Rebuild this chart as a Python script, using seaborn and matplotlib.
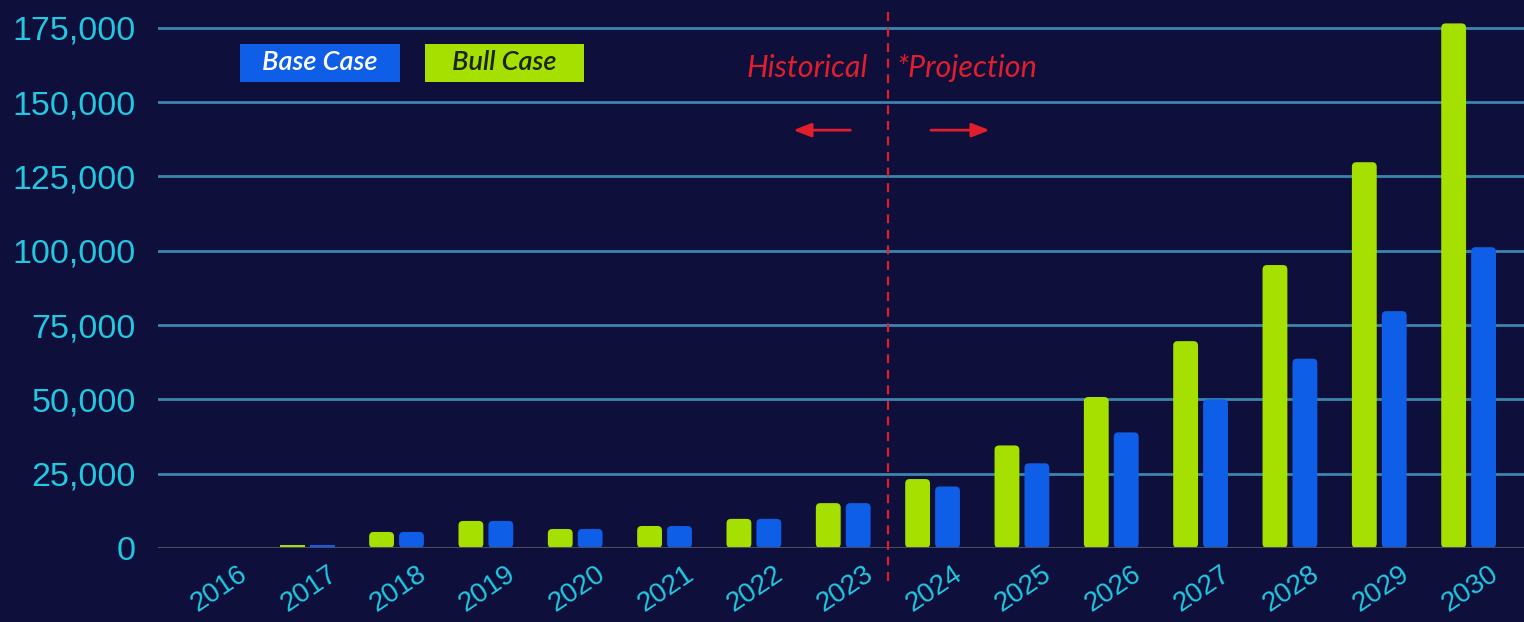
import matplotlib
matplotlib.use("Agg")
import matplotlib.pyplot as plt
from matplotlib.patches import FancyBboxPatch, Rectangle
from matplotlib.ticker import FuncFormatter
import matplotlib.transforms as mtransforms
import seaborn as sns
import pandas as pd

# Annual volume by scenario, historical through 2023 and projected afterwards
years = ["2016", "2017", "2018", "2019", "2020", "2021", "2022", "2023",
         "2024", "2025", "2026", "2027", "2028", "2029", "2030"]
bull_case = [200, 1000, 5400, 9100, 6400, 7400, 9800, 15100,
             23200, 34500, 50800, 69600, 95200, 129800, 176500]
base_case = [200, 1000, 5400, 9100, 6400, 7400, 9800, 15100,
             20700, 28500, 38900, 50000, 63700, 79700, 101200]
y_ticks = [0, 25000, 50000, 75000, 100000, 125000, 150000, 175000]

BG = "#0e0f3b"
GREEN = "#a6e000"
BLUE = "#0f5ee8"
CYAN = "#22c8e2"
GRID = "#3b85ad"
RED = "#e01e2c"

df = pd.DataFrame({
    "Year": years * 2,
    "Value": bull_case + base_case,
    "Scenario": ["Bull Case"] * len(years) + ["Base Case"] * len(years),
})

sns.set_theme(style="white")
plt.rcParams["font.family"] = ["Liberation Sans", "DejaVu Sans"]

W, H = 1524, 622
fig = plt.figure(figsize=(W / 100, H / 100), dpi=100, facecolor=BG)
ax = fig.add_axes([158 / W, 74 / H, 1 - 158 / W, (548 - 13) / H])
ax.set_facecolor(BG)

sns.barplot(data=df, x="Year", y="Value", hue="Scenario",
            hue_order=["Bull Case", "Base Case"],
            palette={"Bull Case": GREEN, "Base Case": BLUE},
            width=0.67, gap=0.17, saturation=1, legend=False,
            edgecolor="none", ax=ax, zorder=3)

ax.set_ylim(0, 180000)
ax.set_xlim(-0.67, 14.62)

# Give the bars softly rounded corners
x_px = ax.bbox.width / (14.62 + 0.67)
y_px = ax.bbox.height / 180000
radius = 4.5 / x_px
aspect = x_px / y_px
for p in list(ax.patches):
    x0, y0, w, h = p.get_x(), p.get_y(), p.get_width(), p.get_height()
    if h * y_px < 12:
        continue
    rounded = FancyBboxPatch((x0, y0), w, h,
                             boxstyle=f"round,pad=0,rounding_size={radius}",
                             mutation_aspect=aspect,
                             fc=p.get_facecolor(), ec="none", zorder=3)
    p.remove()
    ax.add_patch(rounded)

ax.set_yticks(y_ticks)
ax.yaxis.set_major_formatter(FuncFormatter(lambda v, _: f"{int(v):,}"))
for y in y_ticks[1:]:
    ax.axhline(y, color=GRID, lw=2, zorder=1)
ax.axhline(0, color="#4c4c5e", lw=2.2, zorder=4)

for s in ax.spines.values():
    s.set_visible(False)
ax.set_xlabel("")
ax.set_ylabel("")
ax.tick_params(axis="y", length=0, pad=16, labelsize=24.5, labelcolor=CYAN)
ax.tick_params(axis="x", length=0, pad=9, labelsize=20, labelcolor=CYAN)
shift = mtransforms.ScaledTranslation(0.2, 0, fig.dpi_scale_trans)
for lbl in ax.get_xticklabels():
    lbl.set_rotation(34)
    lbl.set_ha("right")
    lbl.set_rotation_mode("anchor")
    lbl.set_transform(lbl.get_transform() + shift)

# Divider between historical and projected years
trans = mtransforms.blended_transform_factory(ax.transData, ax.transAxes)
ax.plot([7.5, 7.5], [-0.062, 1.005], transform=trans, color=RED, lw=1.6,
        ls=(0, (4, 3)), clip_on=False, zorder=5)

lato_it = dict(family=["Lato", "DejaVu Sans"], style="italic")
ax.text(7.28, 0.897, "Historical", transform=trans, ha="right", va="center",
        color=RED, fontsize=22, **lato_it)
ax.text(7.6, 0.897, "*Projection", transform=trans, ha="left", va="center",
        color=RED, fontsize=22, **lato_it)
arrow = dict(arrowstyle="-|>,head_length=0.9,head_width=0.35", color=RED, lw=2)
ax.annotate("", xy=(6.41, 0.781), xytext=(7.11, 0.781), xycoords=trans,
            arrowprops=arrow)
ax.annotate("", xy=(8.67, 0.781), xytext=(7.95, 0.781), xycoords=trans,
            arrowprops=arrow)

# Scenario key drawn as filled label boxes
for (left, right), label, fc, tc in [((240, 400), "Base Case", BLUE, "white"),
                                     ((425, 584), "Bull Case", GREEN, "#1a2410")]:
    fig.patches.append(Rectangle((left / W, 1 - 82 / H), (right - left) / W,
                                 38 / H, transform=fig.transFigure,
                                 fc=fc, ec="none"))
    fig.text((left + right) / 2 / W, 1 - 63 / H, label, ha="center",
             va="center", color=tc, fontsize=19.5, weight="semibold", **lato_it)

fig.savefig("out.png", dpi=100, facecolor=BG)
